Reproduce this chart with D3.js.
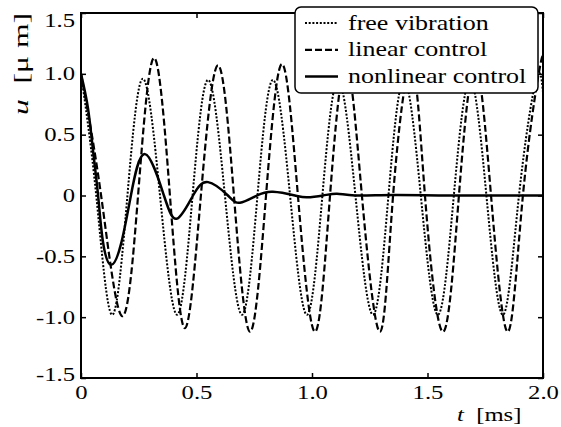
<!DOCTYPE html>
<html>
<head>
<meta charset="utf-8">
<script src="https://cdn.jsdelivr.net/npm/d3@7"></script>
<style>
  body { margin: 0; background: #fff; }
  text { font-family: "Liberation Serif", "Times New Roman", serif; fill: #000; }
</style>
</head>
<body>
<script>
const width = 561
const height = 427
const margin = { top: 13, right: 18, bottom: 49, left: 81 }
const stretch = 1.3 // the original text is drawn wide

// values: t [ms], u [um]
const freeT = [0, 0.066, 0.134, 0.201, 0.268, 0.342, 0.416, 0.483, 0.55, 0.623, 0.697, 0.764, 0.831, 0.905, 0.978,
  1.045, 1.113, 1.188, 1.264, 1.331, 1.398, 1.471, 1.545, 1.614, 1.684, 1.755, 1.827, 1.896, 1.97, 2.0]
const freeU = [1.0, 0, -0.98, 0, 0.96, 0, -0.98, 0, 0.95, 0, -0.98, 0, 0.95, 0, -0.98,
  0, 0.95, 0, -0.98, 0, 0.95, 0, -0.98, 0, 0.95, 0, -0.98, 0, 0.95, 0.85]

const linearT = [0, 0.087, 0.177, 0.247, 0.316, 0.385, 0.45, 0.519, 0.593, 0.662, 0.732, 0.801, 0.87, 0.939, 1.013,
  1.078, 1.147, 1.216, 1.294, 1.351, 1.429, 1.489, 1.567, 1.636, 1.706, 1.775, 1.848, 1.913, 1.987, 2.0]
const linearU = [1.0, 0, -0.99, 0, 1.13, 0, -1.09, 0, 1.07, 0, -1.12, 0, 1.08, 0, -1.12,
  0, 1.08, 0, -1.12, 0, 1.07, 0, -1.12, 0, 1.07, 0, -1.12, 0, 1.06, 1.05]

const nonlinT = [0, 0.03, 0.052, 0.074, 0.095, 0.13, 0.173, 0.216, 0.277, 0.359, 0.416, 0.485, 0.55, 0.636, 0.688,
  0.762, 0.831, 0.926, 0.978, 1.048, 1.108, 1.186, 1.35, 1.6, 2.0]
const nonlinU = [1.0, 0.72, 0.37, 0, -0.38, -0.57, -0.4, 0, 0.34, 0, -0.19, 0, 0.11, 0, -0.06,
  0, 0.03, 0, -0.015, 0, 0.015, 0, 0.004, 0, 0]

const seriesNames = ["free vibration", "linear control", "nonlinear control"]
const seriesDash = ["2,1.7", "7,3", null]
const seriesWidth = [2, 2.2, 2.5]

const xTicks = [0, 0.5, 1.0, 1.5, 2.0]
const xTickLabels = ["0", "0.5", "1.0", "1.5", "2.0"]
const yTicks = [-1.5, -1.0, -0.5, 0, 0.5, 1.0, 1.5]
const yTickLabels = ["-1.5", "-1.0", "-0.5", "0", "0.5", "1.0", "1.5"]

const series = [
  d3.zip(freeT, freeU),
  d3.zip(linearT, linearU),
  d3.zip(nonlinT, nonlinU),
]

const x = d3.scaleLinear().domain([0, 2]).range([margin.left, width - margin.right])
const y = d3.scaleLinear().domain([-1.5, 1.5]).range([height - margin.bottom, margin.top])

const svg = d3.select("body").append("svg")
  .attr("width", width)
  .attr("height", height)

svg.append("clipPath").attr("id", "plot-clip")
  .append("rect")
  .attr("x", margin.left).attr("y", margin.top)
  .attr("width", width - margin.left - margin.right)
  .attr("height", height - margin.top - margin.bottom)

const line = d3.line()
  .x(d => x(d[0]))
  .y(d => y(d[1]))
  .curve(d3.curveNatural)

svg.append("g")
  .attr("clip-path", "url(#plot-clip)")
  .selectAll("path")
  .data(series)
  .join("path")
  .attr("d", line)
  .attr("fill", "none")
  .attr("stroke", "#000")
  .attr("stroke-width", (d, i) => seriesWidth[i])
  .attr("stroke-dasharray", (d, i) => seriesDash[i])

// frame
svg.append("rect")
  .attr("x", margin.left).attr("y", margin.top)
  .attr("width", width - margin.left - margin.right)
  .attr("height", height - margin.top - margin.bottom)
  .attr("fill", "none")
  .attr("stroke", "#000")
  .attr("stroke-width", 2)

// ticks point inward on all four sides
function styleAxis(g) {
  g.attr("font-family", null)
  g.select(".domain").remove()
  g.selectAll(".tick line").attr("stroke", "#000").attr("stroke-width", 1.5)
}

svg.append("g")
  .attr("transform", `translate(0,${height - margin.bottom})`)
  .call(d3.axisBottom(x).tickValues(xTicks).tickSize(-5).tickFormat((d, i) => xTickLabels[i]))
  .call(styleAxis)
  .call(g => g.selectAll(".tick text")
    .attr("font-size", 19)
    .attr("y", 21)
    .attr("dy", null)
    .attr("transform", `scale(${stretch},1)`))

svg.append("g")
  .attr("transform", `translate(0,${margin.top})`)
  .call(d3.axisTop(x).tickValues(xTicks).tickSize(-5).tickFormat(""))
  .call(styleAxis)

svg.append("g")
  .attr("transform", `translate(${margin.left},0)`)
  .call(d3.axisLeft(y).tickValues(yTicks).tickSize(-5).tickFormat((d, i) => yTickLabels[i]))
  .call(styleAxis)
  .call(g => g.selectAll(".tick text")
    .attr("font-size", 19)
    .attr("x", -6 / stretch)
    .attr("y", d => Math.min(Math.max(y(d), 20), 374) - y(d))
    .attr("transform", `scale(${stretch},1)`))

svg.append("g")
  .attr("transform", `translate(${width - margin.right},0)`)
  .call(d3.axisRight(y).tickValues(yTicks).tickSize(-5).tickFormat(""))
  .call(styleAxis)

// axis titles
const yTitle = svg.append("text")
  .attr("transform", "translate(28,115) rotate(-90)")
  .attr("font-size", 22)
  .attr("textLength", 102)
  .attr("lengthAdjust", "spacingAndGlyphs")
yTitle.append("tspan").attr("font-style", "italic").text("u")
yTitle.append("tspan").text("\u00a0\u00a0[\u03bc\u00a0m]")

const xTitle = svg.append("text")
  .attr("transform", `translate(457,421) scale(${stretch},1)`)
  .attr("font-size", 19)
xTitle.append("tspan").attr("font-style", "italic").text("t")
xTitle.append("tspan").text("\u00a0\u00a0[ms]")

// legend
const legend = svg.append("g")
legend.append("rect")
  .attr("x", 295).attr("y", 7)
  .attr("width", 243).attr("height", 86)
  .attr("rx", 6)
  .attr("fill", "#fff")
  .attr("stroke", "#000")
  .attr("stroke-width", 1.5)

const rows = legend.selectAll(".row")
  .data(seriesNames)
  .join("g")
  .attr("class", "row")
  .attr("transform", (d, i) => `translate(0,${23 + i * 26.8})`)

rows.append("line")
  .attr("x1", 305).attr("x2", 338)
  .attr("stroke", "#000")
  .attr("stroke-width", (d, i) => seriesWidth[i])
  .attr("stroke-dasharray", (d, i) => seriesDash[i])

rows.append("text")
  .attr("transform", `translate(348,6.5) scale(${stretch},1)`)
  .attr("font-size", 20)
  .text(d => d)
</script>
</body>
</html>
